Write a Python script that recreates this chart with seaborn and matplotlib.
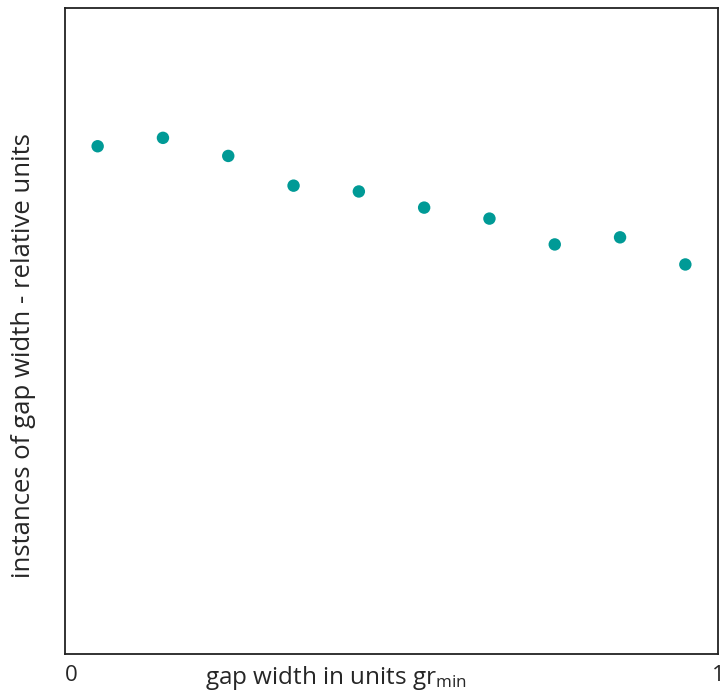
import matplotlib
matplotlib.use("Agg")
import matplotlib.pyplot as plt
import seaborn as sns
import pandas as pd

gap_width = [0.05, 0.15, 0.25, 0.35, 0.45, 0.55, 0.65, 0.75, 0.85, 0.95]
instances = [0.786, 0.799, 0.771, 0.725, 0.716, 0.691, 0.674, 0.634, 0.645, 0.603]
x_ticks = [0, 1]
x_tick_labels = ["0", "1"]

sns.set_style("white")
plt.rcParams["font.family"] = ["Open Sans", "DejaVu Sans"]
plt.rcParams["mathtext.fontset"] = "custom"
plt.rcParams["mathtext.rm"] = "Open Sans"
plt.rcParams["mathtext.it"] = "Open Sans"

df = pd.DataFrame({"gap": gap_width, "inst": instances})

fig = plt.figure(figsize=(7.25, 7.0), dpi=100)
ax = fig.add_axes([65/725, 46/700, 653/725, 646/700])
sns.scatterplot(data=df, x="gap", y="inst", ax=ax, color="#009A96",
                s=80, edgecolor="none", linewidth=0)
ax.set_xlim(0, 1)
ax.set_ylim(0, 1)
ax.set_xticks(x_ticks)
ax.set_xticklabels(x_tick_labels, fontsize=16)
ax.set_yticks([])
ax.tick_params(axis="x", length=0, pad=8)
for lbl in ax.get_xticklabels():
    lbl.set_clip_on(False)
ax.get_xticklabels()[0].set_horizontalalignment("left")
for sp in ax.spines.values():
    sp.set_visible(True)
    sp.set_color("#222222")
    sp.set_linewidth(1.3)
ax.set_xlabel("")
ax.set_ylabel("instances of gap width - relative units", fontsize=18.5)
ax.yaxis.set_label_coords(-0.045, 0.462)
fig.text(205/725, 8/700, r"gap width in units gr$_{\mathrm{min}}$", fontsize=17.5,
         ha="left", va="bottom")
fig.savefig("out.png", dpi=100)
